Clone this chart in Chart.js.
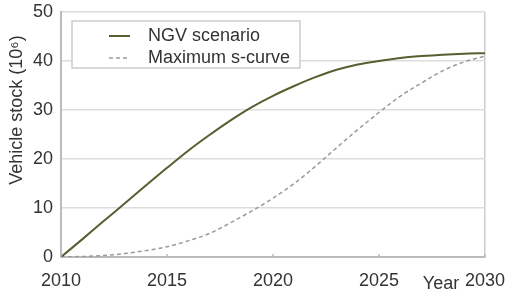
<!DOCTYPE html>
<html>
<head>
<meta charset="utf-8">
<script src="https://cdn.jsdelivr.net/npm/chart.js@4.4.1/dist/chart.umd.min.js"></script>
<style>
  html, body { margin: 0; padding: 0; background: #fff; }
  #wrap { width: 512px; height: 291px; }
</style>
</head>
<body>
<div id="wrap"><canvas id="chart" width="512" height="291"></canvas></div>
<script>
// data
const years = [2010, 2011, 2012, 2013, 2014, 2015, 2016, 2017, 2018, 2019, 2020,
               2021, 2022, 2023, 2024, 2025, 2026, 2027, 2028, 2029, 2030];
const ngvScenario = [0, 3.6, 7.3, 10.9, 14.6, 18.2, 21.7, 24.9, 27.9, 30.6, 32.9,
                     34.9, 36.7, 38.2, 39.3, 40.0, 40.6, 41.0, 41.3, 41.5, 41.6];
const maxSCurve = [0, 0.1, 0.3, 0.7, 1.3, 2.1, 3.3, 4.8, 7.0, 9.4, 12.0,
                   15.0, 18.5, 22.3, 26.0, 29.5, 32.8, 35.5, 38.0, 39.8, 41.0];
const seriesNames = ['NGV scenario', 'Maximum s-curve'];
const xTicks = [2010, 2015, 2020, 2025, 2030];
const yTicks = [0, 10, 20, 30, 40, 50];
const yTitle = 'Vehicle stock (10\u2076)';
const xTitle = 'Year';

const FONT = "'Liberation Sans', Arial, Helvetica, sans-serif";
const TEXT = '#333';

function toPoints(vals) {
    return years.map((y, i) => ({ x: y, y: vals[i] }));
}

// legend box, axis titles and inward tick marks
const extras = {
    id: 'extras',
    afterDraw(chart) {
        const ctx = chart.ctx;
        const xs = chart.scales.x;
        const ys = chart.scales.y;
        ctx.save();

        // small inward ticks on the bottom axis
        ctx.strokeStyle = '#bbb';
        ctx.lineWidth = 1.5;
        xTicks.forEach(v => {
            const px = xs.getPixelForValue(v);
            ctx.beginPath();
            ctx.moveTo(px, ys.bottom);
            ctx.lineTo(px, ys.bottom - 3);
            ctx.stroke();
        });

        // legend
        ctx.fillStyle = '#fff';
        ctx.fillRect(72, 21, 228, 47);
        ctx.strokeStyle = '#ccc';
        ctx.lineWidth = 1.5;
        ctx.strokeRect(72, 21, 228, 47);

        chart.data.datasets.forEach((ds, i) => {
            const ry = 36 + i * 22;
            ctx.strokeStyle = ds.borderColor;
            ctx.lineWidth = ds.borderWidth;
            ctx.setLineDash(ds.borderDash || []);
            ctx.beginPath();
            ctx.moveTo(109, ry);
            ctx.lineTo(130, ry);
            ctx.stroke();
            ctx.setLineDash([]);
            ctx.fillStyle = TEXT;
            ctx.font = '18px ' + FONT;
            ctx.textBaseline = 'middle';
            ctx.textAlign = 'left';
            ctx.fillText(ds.label, 148, ry);
        });

        // y title
        ctx.save();
        ctx.translate(17, 110);
        ctx.rotate(-Math.PI / 2);
        ctx.fillStyle = TEXT;
        ctx.font = '18px ' + FONT;
        ctx.textAlign = 'center';
        ctx.textBaseline = 'middle';
        ctx.fillText(yTitle, 0, 0);
        ctx.restore();

        // x title
        ctx.fillStyle = TEXT;
        ctx.font = '18px ' + FONT;
        ctx.textAlign = 'center';
        ctx.textBaseline = 'middle';
        ctx.fillText(xTitle, 441, 284);

        ctx.restore();
    }
};

new Chart(document.getElementById('chart').getContext('2d'), {
    type: 'line',
    data: {
        datasets: [
            {
                label: seriesNames[0],
                data: toPoints(ngvScenario),
                borderColor: '#585e30',
                borderWidth: 2,
                pointRadius: 0,
                cubicInterpolationMode: 'monotone',
                fill: false
            },
            {
                label: seriesNames[1],
                data: toPoints(maxSCurve),
                borderColor: '#9a9a9a',
                borderWidth: 1.5,
                borderDash: [4, 3],
                pointRadius: 0,
                cubicInterpolationMode: 'monotone',
                fill: false
            }
        ]
    },
    options: {
        responsive: false,
        animation: false,
        devicePixelRatio: 1,
        layout: { padding: { top: 12, right: 27, left: 0, bottom: 0 } },
        plugins: {
            legend: { display: false },
            tooltip: { enabled: false }
        },
        scales: {
            x: {
                type: 'linear',
                min: 2010,
                max: 2030,
                afterFit: s => {
                    s.height = 34;
                    s.paddingLeft = 0;
                    s.paddingRight = 0;
                },
                afterBuildTicks: s => { s.ticks = xTicks.map(v => ({ value: v })); },
                ticks: {
                    color: TEXT,
                    font: { family: FONT, size: 18 },
                    padding: 13,
                    maxRotation: 0,
                    autoSkip: false,
                    callback: v => String(v)
                },
                grid: {
                    drawTicks: false,
                    color: ctx => (ctx.tick && ctx.tick.value === 2030) ? '#ccc' : 'rgba(0,0,0,0)',
                    lineWidth: 1.5
                },
                border: { color: '#bbb', width: 2 }
            },
            y: {
                min: 0,
                max: 50,
                afterFit: s => {
                    s.width = 61;
                    s.paddingTop = 0;
                    s.paddingBottom = 0;
                },
                afterBuildTicks: s => { s.ticks = yTicks.map(v => ({ value: v })); },
                ticks: {
                    color: TEXT,
                    font: { family: FONT, size: 18 },
                    padding: 8
                },
                grid: {
                    drawTicks: false,
                    color: '#ddd',
                    lineWidth: 1.5
                },
                border: { color: '#bbb', width: 2 }
            }
        }
    },
    plugins: [extras]
});
</script>
</body>
</html>
